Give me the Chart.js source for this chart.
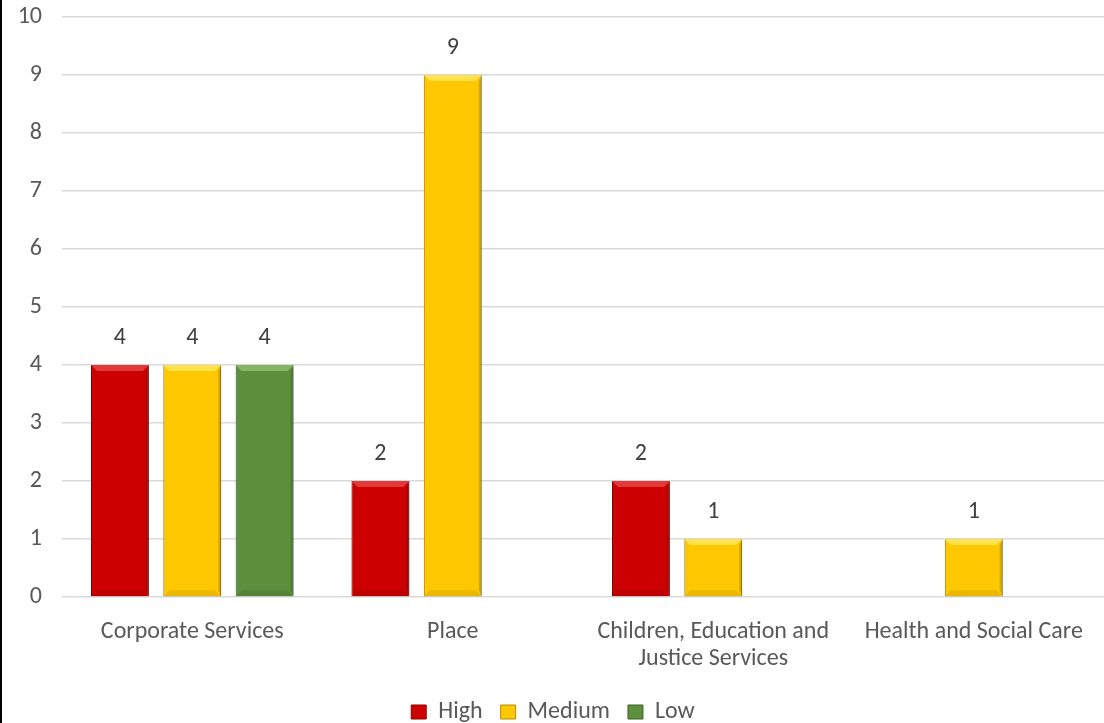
<!DOCTYPE html>
<html>
<head>
    <title>Risks by Directorate</title>
    <script src="https://cdn.jsdelivr.net/npm/chart.js"></script>
    <style>
        body { margin: 0; background: #fff; }
        #wrap { width: 1104px; height: 723px; border-left: 2px solid #000; box-sizing: border-box; }
    </style>
    <script>
        const categories = ['Corporate Services', 'Place', ['Children, Education and', 'Justice Services'], 'Health and Social Care'];
        const highValues = [4, 2, 2, null];
        const mediumValues = [4, 9, 1, 1];
        const lowValues = [4, null, null, null];
        const yMax = 10;
        const yStep = 1;

        const FONT = 'Calibri, Carlito, Lato, sans-serif';

        // soft shadow under the bars
        const barShadow = {
            id: 'barShadow',
            beforeDatasetsDraw(chart) {
                let ctx = chart.ctx;
                ctx.save();
                ctx.shadowColor = 'rgba(0,0,0,0.3)';
                ctx.shadowBlur = 4;
                ctx.shadowOffsetX = 1;
                ctx.shadowOffsetY = 1;
            },
            afterDatasetsDraw(chart) {
                chart.ctx.restore();
            }
        };

        // value labels above each bar
        const valueLabels = {
            id: 'valueLabels',
            afterDatasetsDraw(chart) {
                let ctx = chart.ctx;
                ctx.save();
                ctx.font = '24px ' + FONT;
                ctx.fillStyle = '#404040';
                ctx.textAlign = 'center';
                ctx.textBaseline = 'bottom';
                chart.data.datasets.forEach((ds, i) => {
                    chart.getDatasetMeta(i).data.forEach((bar, j) => {
                        if (ds.data[j] == null) return;
                        ctx.fillText(ds.data[j], bar.x, bar.y - 15);
                    });
                });
                ctx.restore();
            }
        };

        // rough bevel look like the office chart
        const bevel = {
            id: 'bevel',
            afterDatasetsDraw(chart) {
                let ctx = chart.ctx;
                ctx.save();
                chart.data.datasets.forEach((ds, i) => {
                    chart.getDatasetMeta(i).data.forEach((bar, j) => {
                        if (ds.data[j] == null) return;
                        let l = bar.x - bar.width / 2, r = bar.x + bar.width / 2;
                        let t = bar.y, b = bar.base, d = 6;
                        ctx.fillStyle = ds.lightColor;
                        ctx.beginPath();
                        ctx.moveTo(l, t); ctx.lineTo(r, t); ctx.lineTo(r - d, t + d); ctx.lineTo(l + d, t + d);
                        ctx.fill();
                        ctx.fillStyle = 'rgba(0,0,0,0.15)';
                        ctx.beginPath();
                        ctx.moveTo(r, t); ctx.lineTo(r, b); ctx.lineTo(r - 3, b - d); ctx.lineTo(r - 3, t + d);
                        ctx.fill();
                        ctx.fillStyle = 'rgba(0,0,0,0.08)';
                        ctx.beginPath();
                        ctx.moveTo(l, b); ctx.lineTo(r, b); ctx.lineTo(r - d, b - d); ctx.lineTo(l + d, b - d);
                        ctx.fill();
                    });
                });
                ctx.restore();
            }
        };

        function drawChart() {
            let ctx = document.getElementById('riskChart').getContext('2d');
            new Chart(ctx, {
                type: 'bar',
                data: {
                    labels: categories,
                    datasets: [
                        { label: 'High', data: highValues, backgroundColor: '#CC0000', borderColor: '#8E0000', lightColor: '#E23A3A' },
                        { label: 'Medium', data: mediumValues, backgroundColor: '#FFC800', borderColor: '#B38C00', lightColor: '#FFE24D' },
                        { label: 'Low', data: lowValues, backgroundColor: '#5E8F3C', borderColor: '#3F6226', lightColor: '#85B565' }
                    ]
                },
                options: {
                    responsive: false,
                    animation: false,
                    layout: { padding: { top: 17, right: 0, bottom: 0, left: 0 } },
                    datasets: {
                        bar: { categoryPercentage: 0.833, barPercentage: 0.8, borderWidth: 1 }
                    },
                    scales: {
                        x: {
                            grid: { display: false },
                            border: { display: false },
                            ticks: { color: '#595959', font: { family: FONT, size: 24, lineHeight: 1.15 }, padding: 13, maxRotation: 0, autoSkip: false },
                            afterFit(scale) { scale.height = 85; }
                        },
                        y: {
                            min: 0,
                            max: yMax,
                            ticks: { stepSize: yStep, color: '#595959', font: { family: FONT, size: 24 }, padding: 20 },
                            grid: { color: '#D9D9D9', lineWidth: 1.5, drawTicks: false },
                            border: { display: false },
                            afterFit(scale) { scale.width = 60; scale.paddingTop = 0; scale.paddingBottom = 0; }
                        }
                    },
                    plugins: {
                        legend: {
                            position: 'bottom',
                            maxHeight: 41,
                            labels: { boxWidth: 15, boxHeight: 14, padding: 18, color: '#595959', font: { family: FONT, size: 24 } }
                        },
                        tooltip: { enabled: false }
                    }
                },
                plugins: [barShadow, bevel, valueLabels]
            });
        }
    </script>
</head>
<body onload="drawChart()">
    <div id="wrap"><canvas id="riskChart" width="1102" height="723"></canvas></div>
</body>
</html>
